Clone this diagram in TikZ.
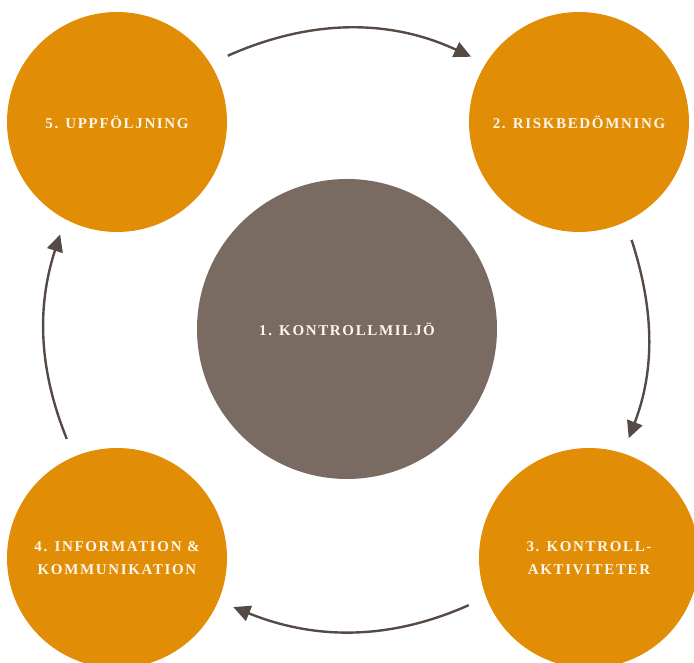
\documentclass[tikz,border=0pt]{standalone}
\usepackage{fontspec}
\setmainfont{Liberation Serif}
\newfontfamily\stegfont[LetterSpace=11]{Liberation Serif}
\usepackage{tikz}
\usetikzlibrary{arrows.meta}
\definecolor{stegorange}{HTML}{E28D06}
\definecolor{miljogra}{HTML}{7A6B62}
\definecolor{pilgra}{HTML}{564B44}
\definecolor{textvit}{HTML}{FDF6EA}

\begin{document}
\begin{tikzpicture}[x=1pt,y=1pt,->,>={Triangle[length=17pt,width=16pt]},
                    line width=2.4pt,draw=pilgra,shorten <=18pt,shorten >=15pt,
                    node distance=462pt]
  \tikzstyle{steg}=[circle,fill=stegorange,minimum size=220pt,inner sep=0pt,
                    text=textvit,font=\stegfont\bfseries\fontsize{15}{23}\selectfont,align=center]

  \clip (0,0) rectangle (694,663);

  \node[steg,fill=miljogra,minimum size=300pt] (K) at (347,334) {1. KONTROLLMILJÖ};
  \node[steg] (U) at (117,541)   {5. UPPFÖLJNING};
  \node[steg] (R) [right of=U]   {2. RISKBEDÖMNING};
  \node[steg] (I) at (117,105)   {4. INFORMATION \&\\KOMMUNIKATION};
  \node[steg] (A) at (589,105)   {3. KONTROLL-\\AKTIVITETER};

  \path (U.32)  edge [out=24,in=155]   (R.148)
        (R.-65) edge [out=-72,in=69]   (A.72)
        (A.201) edge [out=204,in=-22]  (I.-23)
        (I.113) edge [out=112,in=252]  (U.242);
\end{tikzpicture}
\end{document}
